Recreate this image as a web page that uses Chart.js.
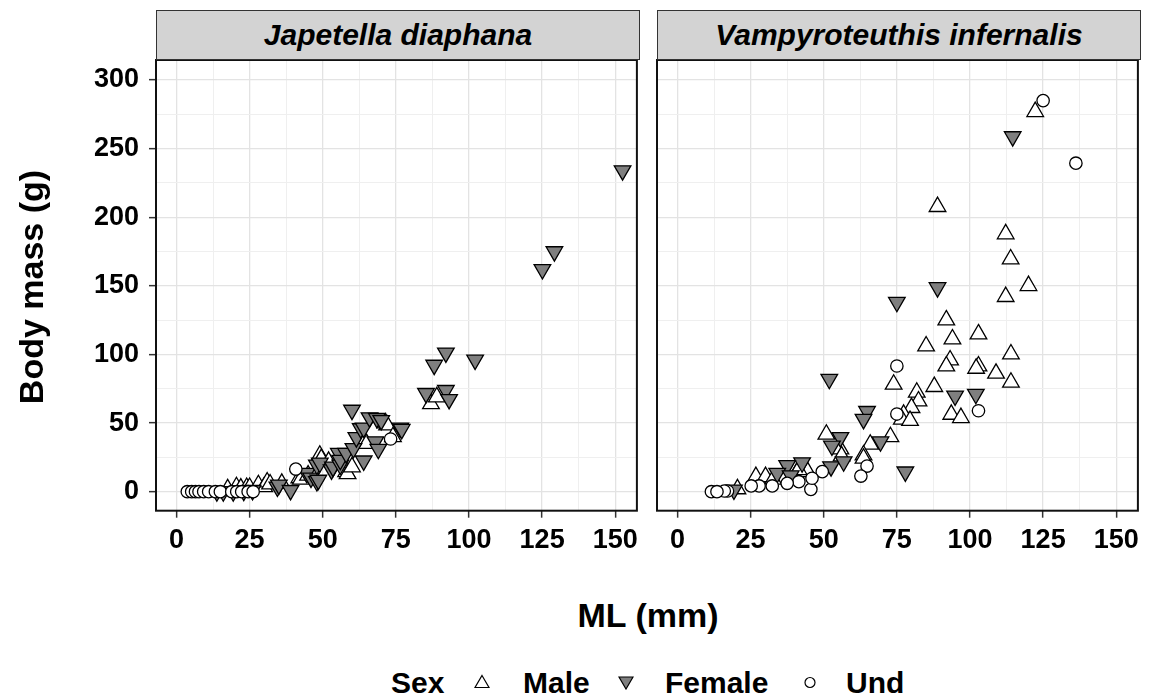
<!DOCTYPE html>
<html>
<head>
<meta charset="utf-8">
<script src="https://cdn.jsdelivr.net/npm/chart.js@4.4.1/dist/chart.umd.min.js"></script>
<style>
  body { margin: 0; background: #fff; font-family: "Liberation Sans", Arial, sans-serif; }
  #wrap { position: relative; width: 1150px; height: 697px; overflow: hidden; background: #fff; }
  canvas { position: absolute; }
  .strip { position: absolute; top: 10px; height: 50px; background: #d3d3d3; border: 1.5px solid #333;
           box-sizing: border-box; font-weight: bold; font-style: italic; font-size: 30px;
           text-align: center; line-height: 47px; color: #000; }
  .lab { position: absolute; font-weight: bold; color: #000; white-space: nowrap; }
  .leg { top: 663px; height: 40px; line-height: 40px; font-size: 30px; }
  .sym { position: absolute; top: 674px; }
</style>
</head>
<body>
<div id="wrap">
  <canvas id="jdChart" width="645" height="540" style="left:0px;top:30px;"></canvas>
  <canvas id="viChart" width="496" height="540" style="left:650px;top:30px;"></canvas>
  <div class="strip" style="left:156px;width:484px;">Japetella diaphana</div>
  <div class="strip" style="left:657px;width:484px;">Vampyroteuthis infernalis</div>
  <div class="lab" style="left:-119px;top:267px;width:300px;height:40px;line-height:40px;font-size:34px;text-align:center;transform:rotate(-90deg);">Body mass (g)</div>
  <div class="lab" style="left:448px;top:595px;width:400px;height:40px;line-height:40px;font-size:34px;text-align:center;">ML (mm)</div>
  <div class="lab leg" style="left:391px;">Sex</div>
  <svg class="sym" style="left:474px;" width="16" height="16"><polygon points="8,1.5 15,13.5 1,13.5" fill="#fff" stroke="#000" stroke-width="1.2"/></svg>
  <div class="lab leg" style="left:523px;">Male</div>
  <svg class="sym" style="left:618px;" width="16" height="16"><polygon points="1,3 15,3 8,15" fill="#7f7f7f" stroke="#000" stroke-width="1.2"/></svg>
  <div class="lab leg" style="left:665px;">Female</div>
  <svg class="sym" style="left:802px;" width="16" height="16"><circle cx="8" cy="8.5" r="5" fill="#fff" stroke="#000" stroke-width="1.2"/></svg>
  <div class="lab leg" style="left:846px;">Und</div>
</div>
<script>
// axis breaks (major + minor), labels only on major
const xTicks = [0, 12.5, 25, 37.5, 50, 62.5, 75, 87.5, 100, 112.5, 125, 137.5, 150];
const yTicks = [0, 25, 50, 75, 100, 125, 150, 175, 200, 225, 250, 275, 300];

// Japetella diaphana  [ML mm, body mass g]
const jdMale = [[17.5,2],[20.5,3.5],[22,2.5],[24,3],[25,3],[28,5],[30,3.5],[31,7],[32,5.5],[36,6],[42,10],[42.5,9],[45,12],
  [49,26.5],[49.5,24],[52,22],[58,14.5],[58.5,13],[60,18],[65,35],[71.5,50],[72,48.5],[74,40],[87,64],[89,69]];
const jdFemale = [[13.8,0],[16,0],[19.4,0],[23,0.5],[26,1],[34.5,3.5],[35,5],[39,1],[44.5,13.5],[46,10],[48,7.5],[48.5,8.5],
  [48,19.5],[49,21],[53,16],[53.5,18],[55.5,28],[56,19.5],[56,23],[58,28],[60,59.5],[60.5,31.5],[61.5,39.5],
  [63,46],[64,22.5],[64,46.5],[66,54],[68.5,53.5],[68,36.5],[69,31],[70,52],[76.5,46.5],[77,45.5],
  [85.3,71.7],[88.1,92.3],[92.1,101.2],[92.1,73.9],[93.2,67.3],[102.1,96],[125.1,162],[129.2,175],[152.5,234]];
const jdUnd = [[3.7,0],[5.2,0],[6.5,0],[7.7,0],[9.3,0],[11,0],[13.3,0],[15,0],[18.9,0],[20.6,0],[22.3,0],
  [24.5,0],[26.2,0],[40.8,16.5],[73.2,38.4]];

// Vampyroteuthis infernalis
const viMale = [[122.3,276.9],[88.9,207.7],[112.2,187.8],[113.9,169.5],[120,150.1],[112.2,142.1],[91.9,125.1],
  [102.9,114.9],[94,111.2],[85,106.1],[114,100.3],[93.2,95.9],[91.9,91.5],[102.9,91.5],[102.1,89.8],[108.9,86.2],
  [114,79.7],[73.9,78.2],[87.8,76.5],[81.8,72.4],[82.4,66],[80,61.2],[77.3,56.3],[76.7,52.7],[79.5,51.8],
  [93.6,56.3],[96.9,53.9],[72.8,40],[65.9,34.5],[63.6,26.7],[50.9,41.8],[55.7,31],[63.6,24.3],[56.1,26],
  [40.9,14.5],[44.5,14.5],[26.8,10.9],[30.1,10.9],[20.5,2],[32.7,9],[41.4,16]];
const viFemale = [[114.6,258.8],[88.9,148.8],[75,138.1],[51.9,82],[64.8,58.6],[63.6,52.8],[69.4,36.5],
  [94.9,69.8],[102,71.1],[55.7,39.5],[52.8,33.4],[52.5,18.3],[56.8,21.9],[42.6,21.2],[37.5,19.1],[34.1,13.5],
  [38.7,11.7],[19.3,1.3],[77.9,14.5]];
const viUnd = [[125,285],[136.2,239.4],[75,91.6],[102.9,59],[75,56.6],[64.8,18.7],[62.7,11.4],[49.5,14.6],
  [45.6,1.7],[46,9.8],[41.5,7.3],[37.5,6.1],[32.4,4.2],[27.9,4.2],[25.2,4.2],[17.1,0.5],[11.6,0],[16,0.5],[13.5,0]];

Chart.defaults.font.family = '"Liberation Sans", Arial, sans-serif';

const toXY = arr => arr.map(p => ({ x: p[0], y: p[1] }));

// black frame round the panel, like ggplot's panel.border
const panelBox = {
  id: 'panelBox',
  afterDraw(chart) {
    const a = chart.chartArea;
    const ctx = chart.ctx;
    ctx.save();
    ctx.strokeStyle = '#111';
    ctx.lineWidth = 2;
    ctx.strokeRect(a.left, a.top, a.right - a.left, a.bottom - a.top);
    ctx.restore();
  }
};

function isMajor(v, step) {
  return Math.abs(v / step - Math.round(v / step)) < 1e-6;
}

function makePanel(id, male, female, und, showY) {
  return new Chart(document.getElementById(id), {
    type: 'scatter',
    data: {
      datasets: [
        { label: 'Und', data: toXY(und), pointStyle: 'circle', pointRadius: 6.2,
          backgroundColor: '#fff', borderColor: '#000', borderWidth: 1.3 },
        { label: 'Female', data: toXY(female), pointStyle: 'triangle', pointRotation: 180, pointRadius: 9.6,
          backgroundColor: '#7f7f7f', borderColor: '#000', borderWidth: 1.3 },
        { label: 'Male', data: toXY(male), pointStyle: 'triangle', pointRadius: 9.6,
          backgroundColor: '#fff', borderColor: '#000', borderWidth: 1.3 }
      ]
    },
    options: {
      responsive: false,
      animation: false,
      events: [],
      layout: { autoPadding: false, padding: { top: 30, right: 5, bottom: 0, left: showY ? 0 : 7 } },
      plugins: { legend: { display: false }, tooltip: { enabled: false } },
      scales: {
        x: {
          type: 'linear', min: -7, max: 157.4,
          afterBuildTicks: s => { s.ticks = xTicks.map(v => ({ value: v })); },
          afterFit: s => { s.height = 59.3; },
          border: { display: false },
          grid: {
            color: c => isMajor(c.tick.value, 25) ? '#e3e3e3' : '#efefef',
            lineWidth: c => isMajor(c.tick.value, 25) ? 1.3 : 1,
            tickColor: c => isMajor(c.tick.value, 25) ? '#333' : 'rgba(0,0,0,0)',
            tickWidth: 1.5,
            tickLength: 7
          },
          ticks: {
            autoSkip: false, maxRotation: 0, padding: 7, color: '#000',
            font: { size: 27, weight: 'bold' },
            callback: v => isMajor(v, 25) ? String(v) : ''
          }
        },
        y: {
          type: 'linear', min: -13.85, max: 314.6,
          afterBuildTicks: s => { s.ticks = yTicks.map(v => ({ value: v })); },
          afterFit: s => { s.width = showY ? 156 : 0; },
          border: { display: false },
          grid: {
            color: c => isMajor(c.tick.value, 50) ? '#e3e3e3' : '#efefef',
            lineWidth: c => isMajor(c.tick.value, 50) ? 1.3 : 1,
            tickColor: c => isMajor(c.tick.value, 50) ? '#333' : 'rgba(0,0,0,0)',
            tickWidth: 1.5,
            tickLength: 7,
            drawTicks: showY
          },
          ticks: {
            display: showY,
            autoSkip: false, padding: 10, color: '#000',
            font: { size: 27, weight: 'bold' },
            callback: v => isMajor(v, 50) ? String(v) : ''
          }
        }
      }
    },
    plugins: [panelBox]
  });
}

makePanel('jdChart', jdMale, jdFemale, jdUnd, true);
makePanel('viChart', viMale, viFemale, viUnd, false);
</script>
</body>
</html>
